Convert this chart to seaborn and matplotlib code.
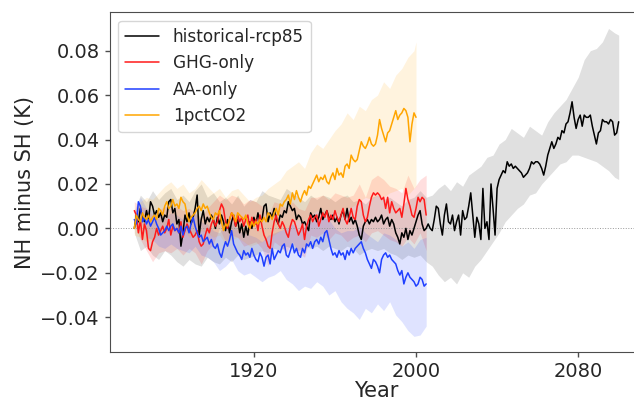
import numpy as np
import matplotlib
matplotlib.use("Agg")
import matplotlib.pyplot as plt
import seaborn as sns

# NH minus SH temperature difference, values in 1e-3 K
years_hist = np.arange(1861, 2101)
hist_rcp85 = [
    0, 6, 3, 9, 5, 3, 8, 4, 12, 10,
    6, 8, 5, 7, 3, 6, 5, 12, 13, 7,
    9, 2, 4, -8, -2, 6, 3, 7, 2, 5,
    9, 15, -3, 4, 8, 2, 5, 3, 6, 4,
    0, 5, 2, 6, 3, -1, 4, -2, 3, 6,
    1, 4, -2, 2, -4, 1, -3, 3, 0, 5,
    2, 7, 3, 4, 10, 11, 3, 7, 5, 9,
    4, 2, 6, 5, 8, 7, 12, 10, 8, 9,
    4, 6, 5, 2, 3, 1, -1, 7, 5, 6,
    3, 5, 9, 4, 6, 8, 5, 4, 6, 3,
    5, 2, 6, 8, 4, 9, 3, 5, 2, 4,
    1, -3, -5, 1, 3, 4, 2, 4, 3, 5,
    3, 4, 6, 2, 4, 5, 1, 4, 2, -2,
    -4, -7, -2, -4, 0, -5, -1, -3, 0, 3,
    6, 8, 2, -1, 0, 2, 0, -1, 4, 10,
    9, 2, -3, 6, 11, 3, 2, 6, -1, 3,
    6, -3, 8, 4, 5, 10, 16, 6, -4, 5,
    2, -5, 18, 0, 3, -5, 20, 9, -3, 18,
    22, 24, 26, 25, 30, 28, 29, 27, 28, 27,
    26, 25, 23, 24, 25, 27, 30, 29, 30, 30,
    29, 27, 24, 28, 33, 36, 39, 36, 38, 41,
    40, 44, 43, 47, 48, 52, 57, 50, 45, 49,
    51, 46, 51, 50, 50, 51, 46, 42, 38, 43,
    44, 49, 48, 48, 47, 49, 48, 42, 43, 48,
]
band_years_hist = np.append(np.arange(1861, 2099, 3), 2100)
hist_hi = [
    8, 15, 12, 17, 13, 16, 18, 13, 15, 12,
    17, 20, 14, 16, 12, 14, 11, 15, 10, 13,
    12, 17, 15, 14, 13, 18, 16, 14, 12, 15,
    13, 15, 14, 12, 14, 15, 12, 13, 11, 14,
    15, 13, 14, 12, 10, 13, 14, 17, 14, 15,
    18, 20, 17, 21, 19, 24, 26, 28, 32, 33,
    38, 40, 45, 43, 41, 46, 44, 42, 48, 52,
    55, 58, 63, 68, 76, 80, 81, 84, 90, 88,
    87,
]
hist_lo = [
    -2, -10, -8, -12, -14, -10, -12, -15, -17, -14,
    -16, -17, -13, -15, -16, -13, -15, -12, -14, -13,
    -12, -10, -11, -9, -10, -8, -9, -10, -8, -9,
    -8, -10, -8, -9, -10, -8, -9, -12, -10, -9,
    -10, -9, -11, -12, -14, -12, -13, -12, -15, -17,
    -21, -24, -22, -25, -20, -22, -17, -14, -10, -6,
    -2, 3, 6, 9, 11, 15, 16, 20, 23, 26,
    29, 30, 33, 33, 32, 31, 30, 28, 26, 23,
    22,
]

years_single = np.arange(1861, 2006)
ghg_only = [
    8, 6, -2, 4, -5, 2, -1, -9, -10, -6,
    -4, 0, -3, -1, 1, -2, 0, 4, -3, 1,
    -1, 0, -2, 3, -4, -1, 2, 0, -2, -4,
    -3, -1, -6, -8, -7, -3, 0, -2, 2, 4,
    1, 3, 8, 11, 9, 3, 0, 4, 7, 5,
    1, 6, 3, 5, 1, 4, 6, 0, 5, 2,
    4, -1, 6, 1, -3, -5, -8, -9, -2, 3,
    6, 2, 0, 3, 1, -2, -4, 1, 4, 3,
    0, -3, -1, 2, -5, 1, 4, 6, 3, 5,
    6, 1, 4, 7, 5, 8, 3, 6, 4, 8,
    5, 3, 6, 9, 4, 2, 5, 9, 5, 4,
    10, 13, 12, 6, 3, 5, 10, 14, 16, 15,
    16, 15, 13, 14, 9, 14, 7, 12, 9, 7,
    8, 9, 5, 11, 18, 13, 10, 6, 5, 9,
    14, 12, 14, 13, 6,
]
aa_only = [
    4, 2, 12, 10, 3, 5, 2, 4, 1, 3,
    5, 2, 0, -3, -2, -1, 1, -1, 1, 2,
    -1, 0, -2, 1, -3, 0, 1, -2, 2, 5,
    1, -2, -4, -3, -6, -5, -4, -7, -5, -8,
    -9, -7, -11, -13, -9, -6, -8, -5, -1, -7,
    -9, -11, -12, -14, -10, -12, -11, -13, -9, -12,
    -14, -15, -11, -13, -17, -13, -12, -16, -9, -14,
    -12, -10, -11, -8, -7, -12, -13, -10, -7, -11,
    -9, -12, -13, -9, -11, -7, -8, -6, -9, -6,
    -5, -7, -4, -6, -2, -1, -5, -9, -12, -11,
    -13, -10, -12, -11, -14, -10, -12, -9, -11, -9,
    -8, -7, -6, -9, -11, -14, -16, -18, -14, -15,
    -17, -20, -14, -12, -11, -13, -12, -14, -15, -16,
    -19, -21, -19, -25, -22, -20, -22, -23, -24, -26,
    -25, -22, -23, -26, -25,
]
band_years_single = np.arange(1861, 2006, 3)
ghg_hi = [
    12, 10, 9, 6, 8, 10, 9, 10, 8, 9,
    7, 5, 9, 12, 15, 13, 15, 14, 11, 13,
    12, 10, 6, 12, 11, 9, 12, 9, 8, 14,
    14, 15, 13, 16, 15, 14, 15, 20, 14, 22,
    24, 22, 19, 18, 16, 24, 18, 22, 24,
]
ghg_lo = [
    2, -5, -10, -15, -11, -10, -11, -9, -12, -9,
    -11, -16, -10, -7, 0, -6, -3, -4, -8, -7,
    -6, -9, -17, -6, -8, -11, -6, -11, -13, -3,
    -4, -2, -5, -2, -3, -6, -4, -3, -6, -2,
    -1, -3, -5, -6, -8, -4, -7, -2, -10,
]
aa_hi = [
    6, 14, 9, 8, 6, 5, 7, 6, 4, 5,
    7, 3, 2, -1, -2, 2, 4, -1, -2, -3,
    -4, -6, -3, -2, -1, 0, 2, -1, 1, 3,
    4, 5, 4, 0, -2, -1, -1, 1, -2, -4,
    -6, -2, -3, -5, -8, -6, -9, -5, -4,
]
aa_lo = [
    0, 4, -4, -5, -8, -9, -7, -9, -10, -11,
    -8, -12, -13, -15, -19, -17, -14, -19, -21, -20,
    -22, -24, -22, -21, -19, -23, -25, -28, -26, -27,
    -24, -26, -30, -28, -33, -36, -38, -41, -36, -38,
    -34, -37, -33, -39, -42, -46, -48.6, -48, -44,
]

years_co2 = np.arange(1861, 2001)
pct_co2 = [
    0, 6, 4, 3, 7, 5, 4, 6, 3, 5,
    6, 4, 9, 8, 6, 10, 12, 9, 10, 13,
    10, 11, 9, 14, 12, 11, 6, 3, 5, 6,
    7, 9, 10, 8, 11, 9, 10, 7, 5, 4,
    7, 6, 8, 3, -1, 2, 1, 4, 7, 6,
    3, 7, 6, 5, 4, 6, 2, 0, 3, 1,
    3, 2, 4, 3, 5, 3, 7, 6, 4, 7,
    9, 6, 11, 10, 12, 13, 15, 11, 16, 13,
    17, 14, 12, 15, 17, 15, 19, 18, 20, 22,
    24, 21, 23, 22, 24, 21, 20, 23, 25, 22,
    27, 24, 25, 23, 28, 29, 27, 33, 31, 30,
    31, 35, 39, 37, 36, 38, 41, 38, 37, 38,
    42, 49, 45, 42, 39, 43, 44, 47, 50, 53,
    49, 51, 52, 54, 53, 50, 39, 47, 52, 50,
]
band_years_co2 = np.append(np.arange(1861, 2000, 3), 2000)
co2_hi = [
    5, 12, 14, 13, 16, 19, 21, 18, 20, 16,
    18, 22, 19, 16, 18, 14, 17, 18, 15, 12,
    14, 15, 18, 20, 22, 26, 28, 30, 27, 34,
    38, 36, 40, 44, 47, 52, 49, 55, 53, 58,
    60, 66, 63, 69, 72, 77, 80,
    84,
]
co2_lo = [
    -3, -4, -6, -5, -3, -2, 0, -2, 0, -4,
    -3, -1, -2, -4, -3, -7, -5, -4, -6, -8,
    -7, -6, -4, -3, -1, 0, 2, 4, 3, 6,
    8, 7, 6, 8, 5, 9, 10, 12, 14, 13,
    15, 14, 16, 17, 18, 15, 18,
    19,
]

series = [
    ("historical-rcp85", years_hist, hist_rcp85, band_years_hist, hist_lo, hist_hi, "black", 0.12),
    ("GHG-only", years_single, ghg_only, band_years_single, ghg_lo, ghg_hi, "#ff1a1a", 0.14),
    ("AA-only", years_single, aa_only, band_years_single, aa_lo, aa_hi, "#1f3fff", 0.14),
    ("1pctCO2", years_co2, pct_co2, band_years_co2, co2_lo, co2_hi, "#ffa500", 0.13),
]

sns.set_style("ticks", {"axes.edgecolor": "0.3"})
plt.rcParams["font.family"] = ["DejaVu Sans"]

fig = plt.figure(figsize=(6.34, 4.0), dpi=100)
ax = fig.add_axes([0.1735, 0.1208, 0.8407, 0.848])

for name, yrs, vals, byrs, lo, hi, col, a in series:
    ax.fill_between(byrs, np.array(lo) / 1000, np.array(hi) / 1000,
                    color=col, alpha=a, lw=0)
    sns.lineplot(x=yrs, y=np.array(vals) / 1000, color=col, lw=1.1,
                 label=name, ax=ax)

ax.axhline(0, color="0.6", lw=0.7, ls=":", zorder=1.5)

ax.set_xlim(1849, 2112)
ax.set_ylim(-0.0555, 0.0972)
ax.set_xticks([1920, 2000, 2080])
ax.set_yticks([-0.04, -0.02, 0.0, 0.02, 0.04, 0.06, 0.08])
ax.tick_params(labelsize=14, length=3.5, width=1, pad=4, color="0.3")
ax.set_xlabel("Year", fontsize=15, labelpad=0)
ax.set_ylabel("NH minus SH (K)", fontsize=15)

leg = ax.legend(loc="upper left", fontsize=12.2, frameon=True,
                framealpha=0.8, edgecolor="0.8", fancybox=True)

fig.savefig("out.png", dpi=100)
